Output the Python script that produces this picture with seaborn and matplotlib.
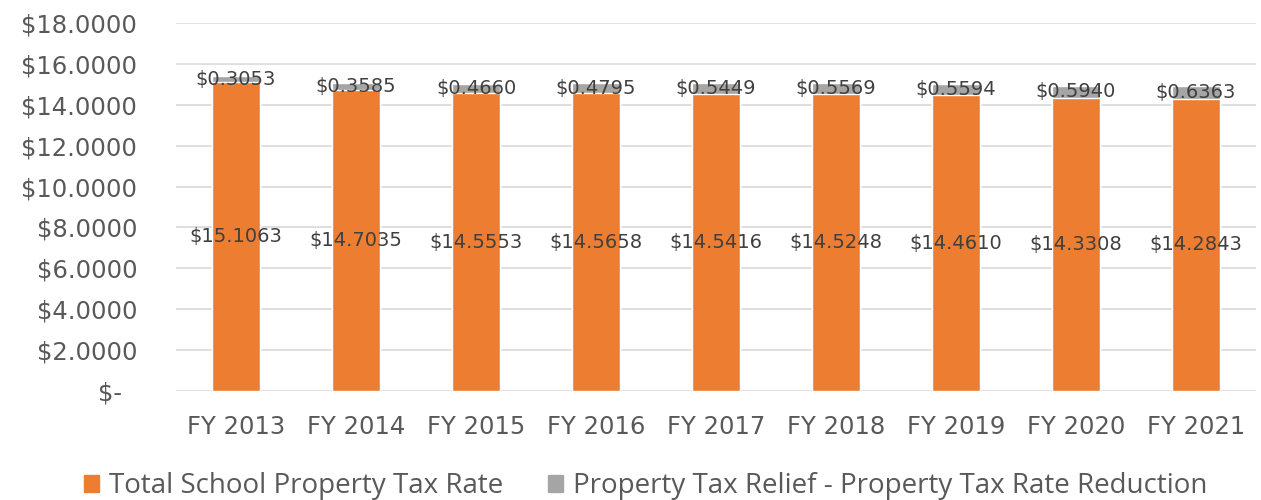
import matplotlib
matplotlib.use("Agg")
import matplotlib.pyplot as plt
import seaborn as sns
from matplotlib.patches import Patch

# data
years = ["FY 2013", "FY 2014", "FY 2015", "FY 2016", "FY 2017",
         "FY 2018", "FY 2019", "FY 2020", "FY 2021"]
school_rate = [15.1063, 14.7035, 14.5553, 14.5658, 14.5416,
               14.5248, 14.4610, 14.3308, 14.2843]
relief = [0.3053, 0.3585, 0.4660, 0.4795, 0.5449,
          0.5569, 0.5594, 0.5940, 0.6363]

ORANGE = "#ED7D31"
GRAY = "#A5A5A5"
TXT = "#404040"
TICK = "#595959"

sns.set_theme(style="white")
plt.rcParams["font.family"] = ["DejaVu Sans"]

fig = plt.figure(figsize=(12.61, 5.0), dpi=100)
ax = fig.add_axes([0.1396, 0.218, 0.8564, 0.736])

stacked = [s + r for s, r in zip(school_rate, relief)]
sns.barplot(x=years, y=stacked, color=GRAY, width=0.4, saturation=1, ax=ax)
sns.barplot(x=years, y=school_rate, color=ORANGE, width=0.4, saturation=1, ax=ax)

# data labels
for i, (s, r) in enumerate(zip(school_rate, relief)):
    ax.text(i, s / 2, f"${s:.4f}", ha="center", va="center", fontsize=14, color=TXT)
    ax.text(i, s + r / 2, f"${r:.4f}", ha="center", va="center", fontsize=14, color=TXT)

ax.set_ylim(0, 18)
ax.set_xlim(-0.5, len(years) - 0.5)
yt = list(range(0, 19, 2))
ax.set_yticks(yt)
ax.set_yticklabels(["$-  " if v == 0 else f"${v:.4f}" for v in yt])
ax.tick_params(axis="y", labelsize=17.5, labelcolor=TICK, length=0, pad=28)
ax.tick_params(axis="x", labelsize=17.5, labelcolor=TICK, length=0, pad=17)
ax.yaxis.grid(True, color="#D9D9D9", linewidth=1.2)
ax.set_axisbelow(True)
for sp in ax.spines.values():
    sp.set_visible(False)

handles = [Patch(color=ORANGE, label="Total School Property Tax Rate"),
           Patch(color=GRAY, label="Property Tax Relief - Property Tax Rate Reduction")]
fig.legend(handles=handles, loc="center", bbox_to_anchor=(0.512, 0.028), ncol=2,
           frameon=False, prop={"family": "Open Sans", "size": 20},
           handlelength=0.55, handleheight=0.55,
           handletextpad=0.35, columnspacing=1.6, labelcolor=TICK)

fig.savefig("out.png", dpi=100)
